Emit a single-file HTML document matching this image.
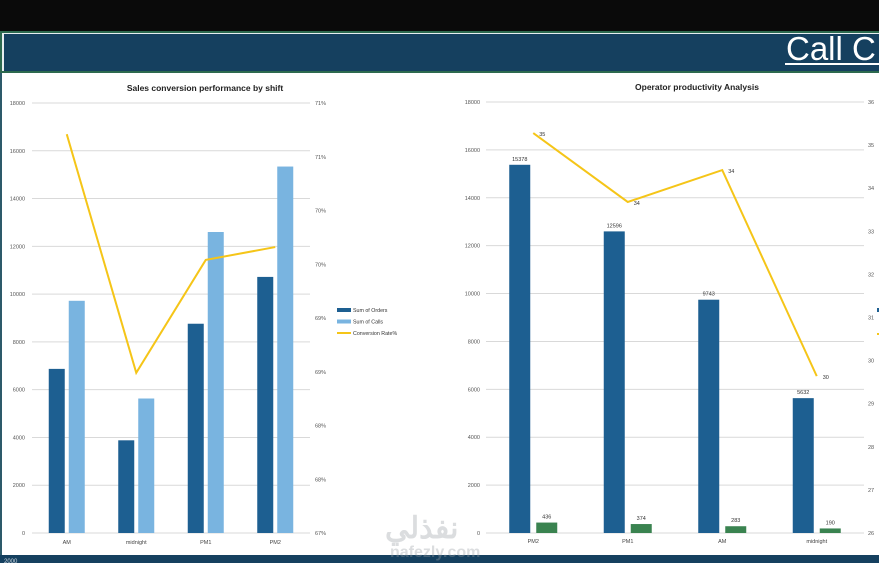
<!DOCTYPE html>
<html><head><meta charset="utf-8"><style>
html,body{margin:0;padding:0;width:879px;height:563px;overflow:hidden;background:#fff;font-family:"Liberation Sans",sans-serif}
</style></head><body>
<svg width="879" height="563" viewBox="0 0 879 563" xmlns="http://www.w3.org/2000/svg" font-family="Liberation Sans, sans-serif">
<rect x="0" y="0" width="879" height="31" fill="#0a0a0a"/>
<rect x="0" y="31" width="879" height="42" fill="#2d6a4f"/>
<rect x="2" y="33" width="877" height="38" fill="#e8eef0"/>
<rect x="4" y="34" width="875" height="37" fill="#15405f"/>
<text x="786" y="60" font-size="33" fill="#fff">Call C</text>
<rect x="785" y="63" width="94" height="2" fill="#fff"/>
<rect x="0" y="73" width="879" height="482" fill="#fff"/>
<rect x="0" y="73" width="2" height="482" fill="#2d5a6a"/>
<rect x="0" y="555" width="879" height="8" fill="#15405f"/>
<text x="4" y="563" font-size="6" fill="#cfd8e0">2000</text>
<g id="left"></g>
<g id="right"></g>
<g opacity="0.35">
<text x="385" y="538" font-size="30" fill="#9aa0a6" font-family="Noto Sans CJK SC, sans-serif" font-weight="bold">نفذلي</text>
<text x="390" y="557" font-size="16" fill="#9aa0a6" font-weight="bold">nafezly.com</text>
</g>
</svg>
<script>
const NS="http://www.w3.org/2000/svg";
function mk(p,t,a,txt){const e=document.createElementNS(NS,t);for(const k in a)e.setAttribute(k,a[k]);if(txt!==undefined)e.textContent=txt;p.appendChild(e);return e;}

// Left chart data
const shiftsL=["AM","midnight","PM1","PM2"];
const ordersL=[6870,3880,8760,10720];
const callsL=[9720,5630,12600,15340];
const convL=[70.71,68.49,69.54,69.66];
const leftTicks=[0,2000,4000,6000,8000,10000,12000,14000,16000,18000];
const rightTicksL=[67,67.5,68,68.5,69,69.5,70,70.5,71];
const rightTickLabelsL=["67%","68%","68%","69%","69%","70%","70%","71%","71%"];

// Right chart data
const shiftsR=["PM2","PM1","AM","midnight"];
const callsR=[15378,12596,9743,5632];
const opsR=[436,374,283,190];
const prodR=[35.28,33.68,34.42,29.64];
const prodLabels=["35","34","34","30"];
const rightTicksR=[26,27,28,29,30,31,32,33,34,35,36];

// ---- Left chart
(function(){
 const g=document.getElementById('left');
 const x0=32,x1=310,yT=103,yB=533;
 const y=v=>yB-(v/18000)*(yB-yT);
 const y2=v=>yB-((v-67)/4)*(yB-yT);
 const cw=(x1-x0)/4, cx=i=>x0+cw*(i+0.5);
 const t=mk(g,'text',{x:205,y:91,'font-size':8.5,'font-weight':'bold','text-anchor':'middle',fill:'#222'},'Sales conversion performance by shift');
 
 
 leftTicks.forEach(v=>{
  const l=mk(g,'line',{x1:x0,x2:x1,y1:y(v),y2:y(v),stroke:'#d9d9d9','stroke-width':1});
  
  
  const tx=mk(g,'text',{x:25,y:y(v)+2,'font-size':5.5,'text-anchor':'end',fill:'#555'},v);
  
  
 });
 rightTicksL.forEach((v,i)=>{
  const tx=mk(g,'text',{x:315,y:y2(v)+2,'font-size':5.5,fill:'#555'},rightTickLabelsL[i]);
  
  
 });
 const bw=16;
 shiftsL.forEach((s,i)=>{
  const b1=mk(g,'rect',{x:cx(i)-bw-2,y:y(ordersL[i]),width:bw,height:yB-y(ordersL[i]),fill:'#1d5f91'});
  
  
  const b2=mk(g,'rect',{x:cx(i)+2,y:y(callsL[i]),width:bw,height:yB-y(callsL[i]),fill:'#79b4e0'});
  
  
  const tx=mk(g,'text',{x:cx(i),y:544,'font-size':5.5,'text-anchor':'middle',fill:'#444'},s);
  
  
 });
 const pl=mk(g,'polyline',{points:convL.map((v,i)=>cx(i)+','+y2(v)).join(' '),fill:'none',stroke:'#f5c518','stroke-width':2});
 
 
 const leg=[["#1d5f91","Sum of Orders",4],["#79b4e0","Sum of Calls",4],["#f5c518","Conversion Rate%",2]];
 leg.forEach((L,i)=>{
  const yy=310+i*11.5;
  const r=mk(g,'rect',{x:337,y:yy-L[2]/2,width:14,height:L[2],fill:L[0]});
  
  
  const tx=mk(g,'text',{x:353,y:yy+2,'font-size':5.3,fill:'#333'},L[1]);
  
  
 });
})();

// ---- Right chart
(function(){
 const g=document.getElementById('right');
 const x0=486,x1=864,yT=102,yB=533;
 const y=v=>yB-(v/18000)*(yB-yT);
 const y2=v=>yB-((v-26)/10)*(yB-yT);
 const cw=(x1-x0)/4, cx=i=>x0+cw*(i+0.5);
 const t=mk(g,'text',{x:697,y:90,'font-size':8.5,'font-weight':'bold','text-anchor':'middle',fill:'#222'},'Operator productivity Analysis');
 
 
 leftTicks.forEach(v=>{
  const l=mk(g,'line',{x1:x0,x2:x1,y1:y(v),y2:y(v),stroke:'#d9d9d9','stroke-width':1});
  
  
  const tx=mk(g,'text',{x:480,y:y(v)+2,'font-size':5.5,'text-anchor':'end',fill:'#555'},v);
  
  
 });
 rightTicksR.forEach(v=>{
  const tx=mk(g,'text',{x:868,y:y2(v)+2,'font-size':5.5,fill:'#555'},v);
  
  
 });
 const bw=21;
 shiftsR.forEach((s,i)=>{
  const bx=cx(i)-24;
  const b1=mk(g,'rect',{x:bx,y:y(callsR[i]),width:bw,height:yB-y(callsR[i]),fill:'#1d5f91'});
  
  
  const l1=mk(g,'text',{x:bx+bw/2,y:y(callsR[i])-4,'font-size':5.5,'text-anchor':'middle',fill:'#333'},callsR[i]);
  
  
  const gx=cx(i)+3;
  const b2=mk(g,'rect',{x:gx,y:y(opsR[i]),width:bw,height:yB-y(opsR[i]),fill:'#3a8350'});
  
  
  const l2=mk(g,'text',{x:gx+bw/2,y:y(opsR[i])-4,'font-size':5.5,'text-anchor':'middle',fill:'#333'},opsR[i]);
  
  
  const tx=mk(g,'text',{x:cx(i),y:543,'font-size':5.5,'text-anchor':'middle',fill:'#444'},s);
  
  
  const pv=mk(g,'text',{x:cx(i)+6,y:y2(prodR[i])+3,'font-size':5.5,fill:'#333'},prodLabels[i]);
  
  
 });
 const pl=mk(g,'polyline',{points:prodR.map((v,i)=>cx(i)+','+y2(v)).join(' '),fill:'none',stroke:'#f5c518','stroke-width':2});
 
 
 const lg1=mk(g,'rect',{x:877,y:308,width:2,height:4,fill:'#1d5f91'});
 
 
 const lg2=mk(g,'rect',{x:877,y:333,width:2,height:2,fill:'#f5c518'});
 
 
})();
</script>
</body></html>
